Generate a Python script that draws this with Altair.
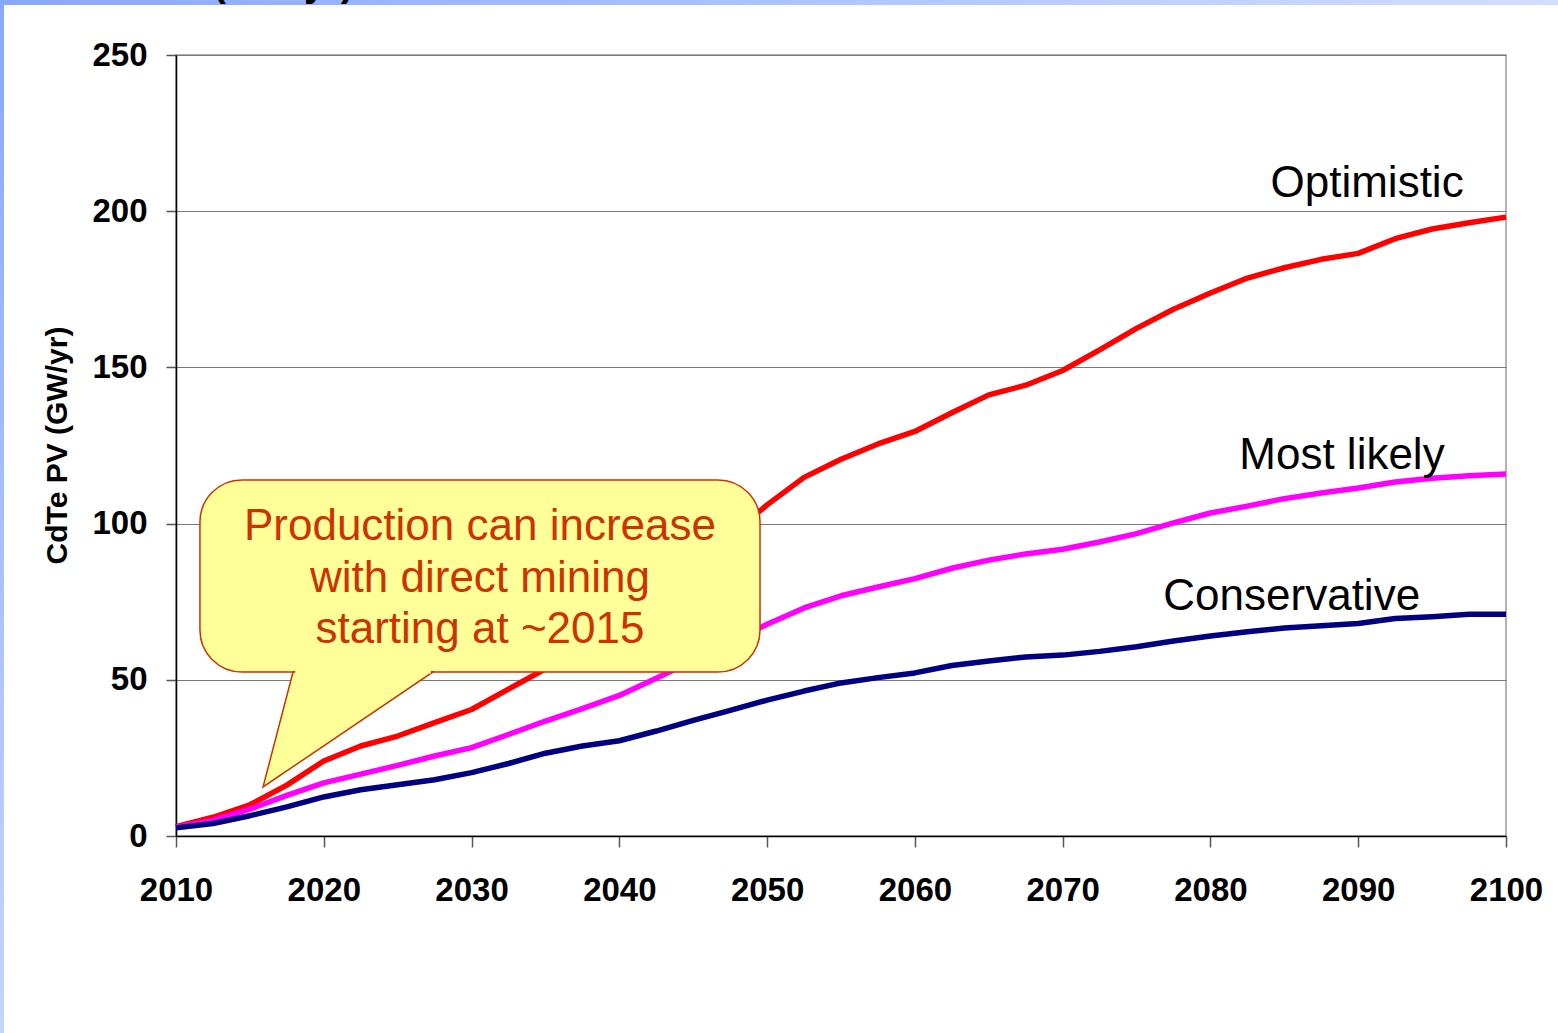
import altair as alt
import pandas as pd

# ---- data ----
years = [2010, 2012.5, 2015, 2017.5, 2020, 2022.5, 2025, 2027.5, 2030, 2032.5,
         2035, 2037.5, 2040, 2042.5, 2045, 2047.5, 2050, 2052.5, 2055, 2057.5,
         2060, 2062.5, 2065, 2067.5, 2070, 2072.5, 2075, 2077.5, 2080, 2082.5,
         2085, 2087.5, 2090, 2092.5, 2095, 2097.5, 2100]

optimistic = [3, 6, 10, 16.3, 24, 28.8, 32, 36.3, 40.5, 47, 53.5, 62, 70, 78, 87,
              96, 106, 114.8, 120.6, 125.5, 129.5, 135.5, 141.2, 144.3, 149,
              155.6, 162.5, 168.6, 173.8, 178.6, 181.9, 184.6, 186.5, 191.2,
              194.3, 196.3, 198.1]

most_likely = [2.8, 5, 8.6, 13, 17, 19.8, 22.6, 25.6, 28.3, 32.5, 36.8, 40.8, 45,
               50.5, 56.2, 61.8, 67.8, 73, 76.9, 79.7, 82.4, 85.7, 88.3, 90.3,
               91.8, 94.1, 96.8, 100.2, 103.4, 105.6, 108, 109.8, 111.4, 113.3,
               114.5, 115.3, 115.9]

conservative = [2.6, 4, 6.5, 9.3, 12.5, 14.8, 16.4, 18, 20.3, 23.2, 26.5, 28.8,
                30.5, 33.6, 37, 40.2, 43.5, 46.4, 49, 50.7, 52.2, 54.6, 56, 57.3,
                57.9, 59.1, 60.6, 62.4, 64, 65.4, 66.6, 67.3, 68, 69.6, 70.2, 71, 71]

series_names = ["Optimistic", "Most likely", "Conservative"]
series_colors = ["#FF0000", "#FF00FF", "#000080"]

x_ticks = [2010, 2020, 2030, 2040, 2050, 2060, 2070, 2080, 2090, 2100]
y_ticks = [0, 50, 100, 150, 200, 250]

# series labels placed near line ends
label_text = ["Optimistic", "Most likely", "Conservative"]
label_year = [2090.6, 2088.9, 2085.5]
label_value = [204.5, 117.5, 72.3]

# callout
callout_lines = ["Production can increase", "with direct mining", "starting at ~2015"]
callout_line_value = [94.75, 78.1, 61.8]
callout_center_year = 2030.57
callout_body = dict(year=[2011.62], year2=[2049.52], value=[113.96], value2=[52.5])
pointer_year = [2015.89, 2017.92, 2027.39]
pointer_top = [15.69, 52.5, 52.5]
pointer_bottom = [15.69, 22.19, 52.5]

# ---- tables ----
rows = []
for name, vals in zip(series_names, [optimistic, most_likely, conservative]):
    for yr, v in zip(years, vals):
        rows.append({"year": yr, "value": v, "series": name})
df = pd.DataFrame(rows)

NARROW = "Liberation Sans Narrow, Arial Narrow, Liberation Sans, sans-serif"
BOLD = "Liberation Sans, Arial, sans-serif"
CALLOUT_FILL = "#FFFF99"
CALLOUT_EDGE = "#CC3300"

xs = alt.Scale(domain=[2010, 2100], nice=False, zero=False)
ys = alt.Scale(domain=[0, 250], nice=False)

xaxis = alt.Axis(values=x_ticks, format="d", title=None, grid=False,
                 labelFont=BOLD, labelFontSize=33, labelFontWeight="bold",
                 labelColor="#000000", labelPadding=27, tickSize=11,
                 tickColor="#555555", tickWidth=1.5, domainColor="#000000",
                 domainWidth=1.5, labelFlush=False, labelOverlap=False)
yaxis = alt.Axis(values=y_ticks, title="CdTe PV (GW/yr)", grid=True,
                 gridColor="#7a7a7a", gridWidth=1,
                 labelFont=BOLD, labelFontSize=33, labelFontWeight="bold",
                 labelColor="#000000", labelPadding=19, tickSize=10,
                 tickColor="#555555", tickWidth=1.5, domainColor="#000000",
                 domainWidth=1.5, labelFlush=False, labelOverlap=False,
                 titleFont=BOLD, titleFontSize=30, titleFontWeight="bold",
                 titleColor="#000000", titleAngle=270, titleX=-119, titleY=390,
                 titleAlign="center", titleBaseline="middle")


def X(field):
    return alt.X(field, type="quantitative", scale=xs, axis=xaxis)


def Y(field):
    return alt.Y(field, type="quantitative", scale=ys, axis=yaxis)


lines = alt.Chart(df).mark_line(strokeWidth=5.5, strokeJoin="round").encode(
    x=X("year"),
    y=Y("value"),
    color=alt.Color("series:N", scale=alt.Scale(domain=series_names, range=series_colors),
                    legend=None),
    order=alt.Order("year:Q"),
)

body = alt.Chart(pd.DataFrame(callout_body)).mark_rect(
    fill=CALLOUT_FILL, stroke=CALLOUT_EDGE, strokeWidth=1.5, cornerRadius=42
).encode(x=X("year"), x2="year2", y=Y("value"), y2="value2")

pointer = alt.Chart(pd.DataFrame({"year": pointer_year, "value": pointer_top,
                                  "value2": pointer_bottom})).mark_area(
    fill=CALLOUT_FILL, stroke=CALLOUT_EDGE, strokeWidth=1.5, orient="vertical",
    interpolate="linear"
).encode(x=X("year"), y=Y("value"), y2="value2")

cover = alt.Chart(pd.DataFrame({"year": [pointer_year[1] + 0.15],
                                "year2": [pointer_year[2] - 0.15],
                                "value": [pointer_top[1]]})).mark_rule(
    color=CALLOUT_FILL, strokeWidth=3
).encode(x=X("year"), x2="year2", y=Y("value"))

callout_text = alt.Chart(pd.DataFrame({"year": [callout_center_year] * 3,
                                       "value": callout_line_value,
                                       "text": callout_lines})).mark_text(
    font=NARROW, fontSize=44, color=CALLOUT_EDGE, align="center", baseline="alphabetic"
).encode(x=X("year"), y=Y("value"), text="text:N")

labels = alt.Chart(pd.DataFrame({"year": label_year, "value": label_value,
                                 "text": label_text})).mark_text(
    font=NARROW, fontSize=44, color="#000000", align="center", baseline="alphabetic"
).encode(x=X("year"), y=Y("value"), text="text:N")

# slide decoration (top/left blue band and clipped title fragment)
one = pd.DataFrame({"a": [0]})
top_band = alt.Chart(one).mark_rect(
    color={"gradient": "linear", "x1": 0, "x2": 1, "y1": 0, "y2": 0,
           "stops": [{"offset": 0, "color": "#88a8ff"},
                     {"offset": 1, "color": "#d2ddff"}]}
).encode(x=alt.value(-176), x2=alt.value(1382), y=alt.value(-56), y2=alt.value(-50))

left_band = alt.Chart(one).mark_rect(
    color={"gradient": "linear", "x1": 0, "x2": 0, "y1": 0, "y2": 1,
           "stops": [{"offset": 0, "color": "#88a8ff"},
                     {"offset": 1, "color": "#c6d3ff"}]}
).encode(x=alt.value(-177), x2=alt.value(-172), y=alt.value(-56), y2=alt.value(979))

title_frag = alt.Chart(pd.DataFrame({"t": ["(GW/yr)"]})).mark_text(
    font=BOLD, fontSize=39, fontWeight="bold", color="#000000", align="left",
    baseline="alphabetic"
).encode(x=alt.value(37), y=alt.value(-59), text="t:N")

chart = alt.layer(
    lines, body, pointer, cover, callout_text, labels, top_band, left_band, title_frag
).properties(
    width=1330, height=781,
    autosize=alt.AutoSizeParams(type="none"),
    padding={"left": 176, "top": 55, "right": 52, "bottom": 197},
    background="#ffffff",
).configure_view(stroke="#9a9a9a", strokeWidth=1.5)

chart.save("out.html", embed_options={"renderer": "svg", "actions": False})
